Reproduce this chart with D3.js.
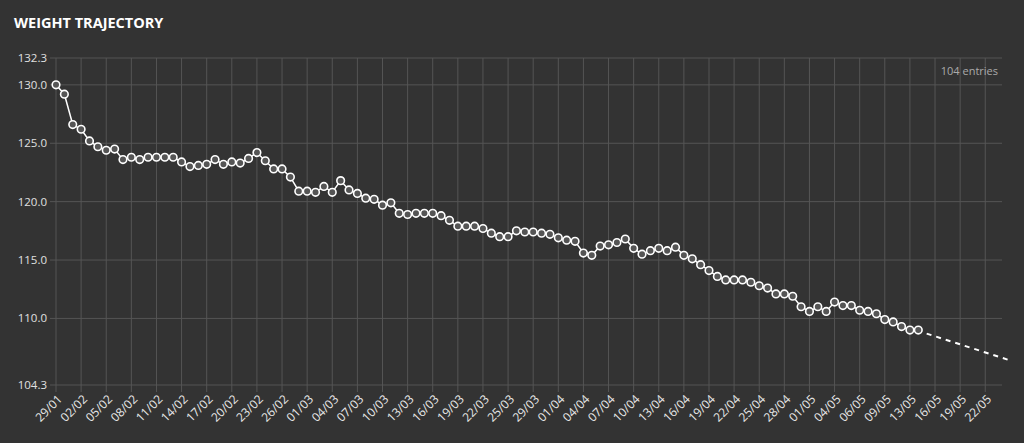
<!DOCTYPE html>
<html>
<head>
<meta charset="utf-8">
<script src="https://cdn.jsdelivr.net/npm/d3@7"></script>
<style>
  body { margin: 0; background: #333333; font-family: "Open Sans", "Liberation Sans", sans-serif; }
</style>
</head>
<body>
<svg id="chart"></svg>
<script>
// weights, one per entry
var weights = [
  130.0, 129.2, 126.6, 126.2, 125.2, 124.7, 124.4, 124.5, 123.6, 123.8,
  123.6, 123.8, 123.8, 123.8, 123.8, 123.4, 123.0, 123.1, 123.2, 123.6,
  123.2, 123.4, 123.3, 123.7, 124.2, 123.5, 122.8, 122.8, 122.1, 120.9,
  120.9, 120.8, 121.3, 120.8, 121.8, 121.0, 120.7, 120.3, 120.2, 119.7,
  119.9, 119.0, 118.9, 119.0, 119.0, 119.0, 118.8, 118.4, 117.9, 117.9,
  117.9, 117.7, 117.3, 117.0, 117.0, 117.5, 117.4, 117.4, 117.3, 117.2,
  116.9, 116.7, 116.6, 115.6, 115.4, 116.2, 116.3, 116.5, 116.8, 116.0,
  115.5, 115.8, 116.0, 115.8, 116.1, 115.4, 115.1, 114.6, 114.1, 113.6,
  113.3, 113.3, 113.3, 113.1, 112.8, 112.6, 112.1, 112.1, 111.9, 111.0,
  110.6, 111.0, 110.6, 111.4, 111.1, 111.1, 110.7, 110.6, 110.4, 109.9,
  109.7, 109.3, 109.0, 109.0
];

// one label every 3 entries
var dateLabels = [
  "29/01", "02/02", "05/02", "08/02", "11/02", "14/02", "17/02", "20/02", "23/02", "26/02",
  "01/03", "04/03", "07/03", "10/03", "13/03", "16/03", "19/03", "22/03", "25/03", "29/03",
  "01/04", "04/04", "07/04", "10/04", "13/04", "16/04", "19/04", "22/04", "25/04", "28/04",
  "01/05", "04/05", "06/05", "09/05", "13/05", "16/05", "19/05", "22/05"
];

var yTicks = [104.3, 110.0, 115.0, 120.0, 125.0, 130.0, 132.3];

// projected trend (index, weight)
var trend = [[104, 108.7], [114, 106.4]];

var width = 1024, height = 443;
var margin = { top: 58, right: 22, bottom: 58, left: 56 };

var svg = d3.select("#chart").attr("width", width).attr("height", height);

svg.append("text")
  .attr("x", 14).attr("y", 28)
  .attr("fill", "#ffffff")
  .attr("font-size", "14.5px")
  .attr("font-weight", "bold")
  .text("WEIGHT TRAJECTORY");

var xScale = d3.scaleLinear().domain([0, 113]).range([margin.left, width - margin.right]);
var yScale = d3.scaleLinear().domain([104.3, 132.3]).range([height - margin.bottom, margin.top]);

// horizontal grid
svg.append("g")
  .selectAll("line")
  .data(yTicks)
  .enter()
  .append("line")
  .attr("x1", margin.left - 6).attr("x2", xScale(113))
  .attr("y1", d => yScale(d)).attr("y2", d => yScale(d))
  .attr("stroke", "#555555");

svg.append("g")
  .selectAll("text")
  .data(yTicks)
  .enter()
  .append("text")
  .attr("x", margin.left - 9)
  .attr("y", d => yScale(d))
  .attr("dy", "0.35em")
  .attr("text-anchor", "end")
  .attr("fill", "#e0e0e0")
  .attr("font-size", "11.5px")
  .text(d => d.toFixed(1));

// vertical grid + date labels
var xg = svg.append("g");
xg.selectAll("line")
  .data(dateLabels)
  .enter()
  .append("line")
  .attr("x1", (d, i) => xScale(i * 3)).attr("x2", (d, i) => xScale(i * 3))
  .attr("y1", margin.top).attr("y2", height - margin.bottom + 7)
  .attr("stroke", "#555555");

xg.selectAll("text")
  .data(dateLabels)
  .enter()
  .append("text")
  .attr("transform", (d, i) => `translate(${xScale(i * 3) + 4}, ${height - margin.bottom + 12}) rotate(-45)`)
  .attr("text-anchor", "end")
  .attr("dy", "0.35em")
  .attr("fill", "#e8e8e8")
  .attr("font-size", "12px")
  .text(d => d);

svg.append("text")
  .attr("x", 998).attr("y", 75)
  .attr("text-anchor", "end")
  .attr("fill", "#aaaaaa")
  .attr("font-size", "11px")
  .text(weights.length + " entries");

// trend line
svg.append("path")
  .datum(trend)
  .attr("d", d3.line().x(d => xScale(d[0])).y(d => yScale(d[1])))
  .attr("fill", "none")
  .attr("stroke", "#ffffff")
  .attr("stroke-width", 2)
  .attr("stroke-dasharray", "5,5");

// weight line
svg.append("path")
  .datum(weights)
  .attr("d", d3.line().x((d, i) => xScale(i)).y(d => yScale(d)))
  .attr("fill", "none")
  .attr("stroke", "#ffffff")
  .attr("stroke-width", 1.5);

svg.append("g")
  .selectAll("circle")
  .data(weights)
  .enter()
  .append("circle")
  .attr("cx", (d, i) => xScale(i))
  .attr("cy", d => yScale(d))
  .attr("r", 3.8)
  .attr("fill", "#555555")
  .attr("stroke", "#ffffff")
  .attr("stroke-width", 1.6);
</script>
</body>
</html>
